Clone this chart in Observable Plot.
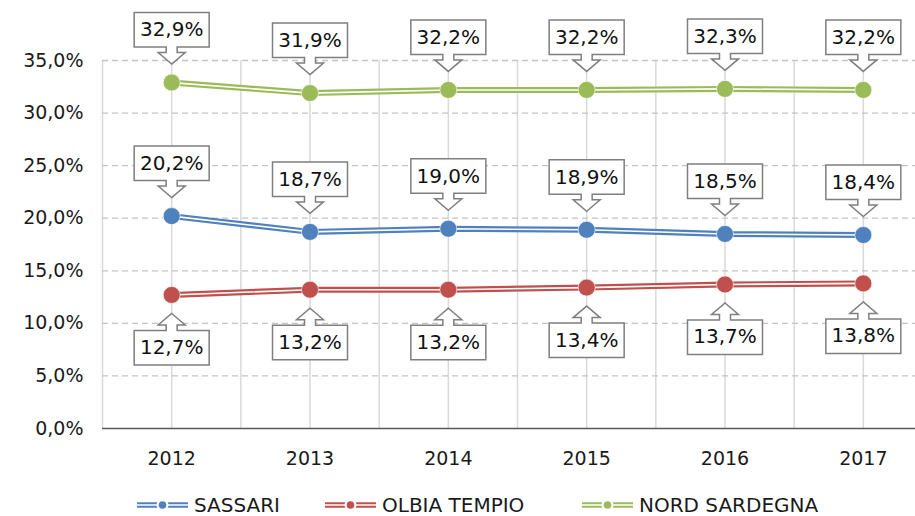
<!DOCTYPE html>
<html>
<head>
<meta charset="utf-8">
<script src="https://cdn.jsdelivr.net/npm/d3@7"></script>
<script src="https://cdn.jsdelivr.net/npm/@observablehq/plot@0.6"></script>
<style>
  html, body { margin: 0; padding: 0; background: #fff; }
  body { width: 915px; height: 516px; overflow: hidden; font-family: "DejaVu Sans", sans-serif; }
  #chart svg { display: block; }
  #legend { position: relative; height: 36px; }
  .item { position: absolute; top: 14px; height: 22px; display: flex; align-items: center; font-size: 20px; color: #1a1a1a; white-space: nowrap; }
  .item span { display: block; height: 22px; line-height: 22px; }
  .item svg { margin-right: 6px; }
</style>
</head>
<body>
<div id="chart"></div>
<div id="legend"></div>
<script>
// ---- data ----
const years = [2012, 2013, 2014, 2015, 2016, 2017];
const seriesNames = ["SASSARI", "OLBIA TEMPIO", "NORD SARDEGNA"];
const sassari = [20.2, 18.7, 19.0, 18.9, 18.5, 18.4];
const olbiaTempio = [12.7, 13.2, 13.2, 13.4, 13.7, 13.8];
const nordSardegna = [32.9, 31.9, 32.2, 32.2, 32.3, 32.2];
const seriesColors = ["#4F81BD", "#C0504D", "#9BBB59"];
const labelSides = ["up", "down", "up"];
const yTicks = [0, 5, 10, 15, 20, 25, 30, 35];

const seriesValues = [sassari, olbiaTempio, nordSardegna];
const rows = [];
seriesNames.forEach((name, i) => {
  years.forEach((yr, j) => rows.push({series: name, year: yr, value: seriesValues[i][j], side: labelSides[i]}));
});

const fmt = v => v.toFixed(1).replace(".", ",") + "%";

// vertical gridlines at category centres and boundaries
const gridX = [years[0] - 0.5];
years.forEach(y => { gridX.push(y); gridX.push(y + 0.5); });

// callout shapes (box + arrow), drawn around each point
function calloutSymbol(dir) {
  return {
    draw(ctx) {
      const s = dir;
      const tip = 18.5, sh = 30, near = 35.5, far = 70, hw = 37.5, head = 13.5, stem = 5.5;
      ctx.moveTo(0, s * tip);
      ctx.lineTo(head, s * sh);
      ctx.lineTo(stem, s * sh);
      ctx.lineTo(stem, s * near);
      ctx.lineTo(hw, s * near);
      ctx.lineTo(hw, s * far);
      ctx.lineTo(-hw, s * far);
      ctx.lineTo(-hw, s * near);
      ctx.lineTo(-stem, s * near);
      ctx.lineTo(-stem, s * sh);
      ctx.lineTo(-head, s * sh);
      ctx.closePath();
    }
  };
}
const upSym = calloutSymbol(-1);
const downSym = calloutSymbol(1);

const chart = Plot.plot({
  width: 915,
  height: 480,
  marginLeft: 102,
  marginRight: 0,
  marginTop: 60,
  marginBottom: 52,
  style: {fontFamily: "DejaVu Sans, sans-serif", background: "white", color: "#1a1a1a"},
  x: {domain: [years[0] - 0.5, years[years.length - 1] + 0.5], range: [102, 932]},
  y: {domain: [0, 35], range: [428, 60]},
  color: {domain: seriesNames, range: seriesColors},
  marks: [
    Plot.ruleX(gridX, {y1: 0, y2: 35, stroke: "#d9d9d9", strokeWidth: 1.5}),
    Plot.ruleY(yTicks.filter(d => d > 0), {stroke: "#c4c4c4", strokeWidth: 1.3, strokeDasharray: "6,4"}),
    Plot.ruleY([0], {stroke: "#595959", strokeWidth: 1.5}),
    Plot.axisY({ticks: yTicks, tickSize: 0, tickPadding: 19, tickFormat: d => d.toFixed(1).replace(".", ",") + "%", fontSize: 19, label: null}),
    Plot.axisX({ticks: years, tickSize: 0, tickPadding: 23, tickFormat: d => String(d), fontSize: 19, label: null}),
    Plot.dot(rows, {filter: d => d.side === "up", x: "year", y: "value", symbol: upSym, r: 5, fill: "white", stroke: "#7f7f7f", strokeWidth: 1.5}),
    Plot.dot(rows, {filter: d => d.side === "down", x: "year", y: "value", symbol: downSym, r: 5, fill: "white", stroke: "#7f7f7f", strokeWidth: 1.5}),
    Plot.line(rows, {x: "year", y: "value", z: "series", stroke: "series", strokeWidth: 6}),
    Plot.line(rows, {x: "year", y: "value", z: "series", stroke: "white", strokeWidth: 1.6}),
    Plot.dot(rows, {x: "year", y: "value", fill: "series", r: 8.5, stroke: "white", strokeWidth: 0.6}),
    Plot.text(rows, {filter: d => d.side === "up", x: "year", y: "value", text: d => fmt(d.value), dy: -52.5, fontSize: 20, fill: "#111"}),
    Plot.text(rows, {filter: d => d.side === "down", x: "year", y: "value", text: d => fmt(d.value), dy: 52.5, fontSize: 20, fill: "#111"})
  ]
});
document.getElementById("chart").appendChild(chart);

// legend
const legendLeft = [137, 325, 582];
const legend = document.getElementById("legend");
seriesNames.forEach((name, i) => {
  const c = seriesColors[i];
  const item = document.createElement("div");
  item.className = "item";
  item.style.left = legendLeft[i] + "px";
  item.innerHTML =
    `<svg width="51" height="12" viewBox="0 0 51 12">
       <line x1="0" x2="51" y1="4.2" y2="4.2" stroke="${c}" stroke-width="2"/>
       <line x1="0" x2="51" y1="7.8" y2="7.8" stroke="${c}" stroke-width="2"/>
       <circle cx="25.5" cy="6" r="6" fill="white"/>
       <circle cx="25.5" cy="6" r="3.8" fill="${c}"/>
     </svg><span>${name}</span>`;
  legend.appendChild(item);
});
</script>
</body>
</html>
